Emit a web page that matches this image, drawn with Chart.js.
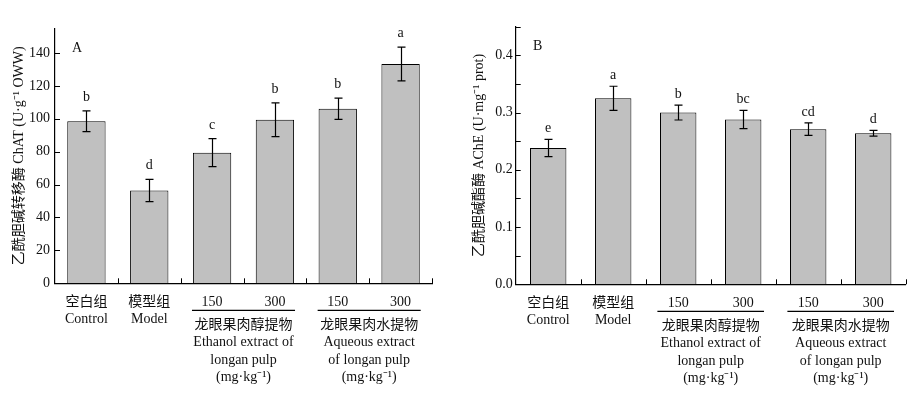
<!DOCTYPE html>
<html>
<head>
<meta charset="utf-8">
<script src="https://cdn.jsdelivr.net/npm/chart.js@4"></script>
<style>
  html, body { margin: 0; padding: 0; background: #fff; }
  #wrap { width: 922px; height: 399px; display: flex; }
  canvas { display: block; }
</style>
</head>
<body>
<div id="wrap">
  <canvas id="chart-a" width="461" height="399"></canvas>
  <canvas id="chart-b" width="461" height="399"></canvas>
</div>
<script>
// categories (first row of x labels)
const categories = [['空白组', 'Control'], ['模型组', 'Model'], '150', '300', '150', '300']
// dose groups under the 150 / 300 pairs
const groupLabels = [
  ['龙眼果肉醇提物', 'Ethanol extract of', 'longan pulp', '(mg·kg⁻¹)'],
  ['龙眼果肉水提物', 'Aqueous extract', 'of longan pulp', '(mg·kg⁻¹)']
]

// panel A: ChAT
const chatMeans = [98.5, 56.4, 79.4, 99.4, 106.1, 133.3]
const chatErrors = [6.3, 6.8, 8.5, 10.3, 6.4, 10.3]
const chatLetters = ['b', 'd', 'c', 'b', 'b', 'a']

// panel B: AChE
const acheMeans = [0.238, 0.325, 0.300, 0.288, 0.271, 0.264]
const acheErrors = [0.015, 0.021, 0.013, 0.016, 0.011, 0.005]
const acheLetters = ['e', 'a', 'b', 'bc', 'cd', 'd']

const SERIF = '"Liberation Serif", "Times New Roman", "Noto Sans CJK SC", serif'
const INK = '#111'

Chart.defaults.font.family = SERIF
Chart.defaults.font.size = 14
Chart.defaults.color = INK

// draws error bars, letters, inside ticks, panel letter and dose groups
const extrasPlugin = {
  id: 'extras',
  afterDatasetsDraw(chart, args, opts) {
    const { ctx, chartArea } = chart
    const x = chart.scales.x
    const y = chart.scales.y
    const meta = chart.getDatasetMeta(0)
    const means = chart.data.datasets[0].data

    ctx.save()
    ctx.strokeStyle = '#000'
    ctx.lineWidth = 1.2
    ctx.fillStyle = INK
    ctx.font = '14px ' + SERIF
    ctx.textAlign = 'center'
    ctx.textBaseline = 'alphabetic'

    meta.data.forEach((bar, i) => {
      const hi = y.getPixelForValue(means[i] + opts.errors[i])
      const lo = y.getPixelForValue(means[i] - opts.errors[i])
      const cx = Math.round(bar.x) + 0.5
      ctx.beginPath()
      ctx.moveTo(cx, hi); ctx.lineTo(cx, lo)
      ctx.moveTo(cx - 4, hi); ctx.lineTo(cx + 4, hi)
      ctx.moveTo(cx - 4, lo); ctx.lineTo(cx + 4, lo)
      ctx.stroke()
      ctx.fillText(opts.letters[i], bar.x, hi - opts.letterGap)
    })

    // inside ticks on y
    ctx.lineWidth = 1
    ctx.beginPath()
    y.ticks.forEach(t => {
      const py = Math.round(y.getPixelForValue(t.value)) + 0.5
      ctx.moveTo(chartArea.left, py); ctx.lineTo(chartArea.left + 5, py)
    })
    // inside ticks on x, at category boundaries
    const n = x.ticks.length
    for (let i = 1; i <= n; i++) {
      const px = Math.round(x.left + i * x.width / n) + 0.5
      ctx.moveTo(px, chartArea.bottom); ctx.lineTo(px, chartArea.bottom - 5)
    }
    ctx.stroke()

    // panel letter
    ctx.textBaseline = 'middle'
    ctx.fillText(opts.panel, chartArea.left + 22, chartArea.top + 20)

    // dose groups
    const step = x.width / n
    groupLabels.forEach((lines, g) => {
      const c = (x.getPixelForValue(2 + g * 2) + x.getPixelForValue(3 + g * 2)) / 2
      const ly = chartArea.bottom + 27
      ctx.lineWidth = 1.2
      ctx.beginPath()
      ctx.moveTo(c - step * 0.82, ly); ctx.lineTo(c + step * 0.82, ly)
      ctx.stroke()
      lines.forEach((t, k) => {
        ctx.fillText(t, c, chartArea.bottom + 42 + k * 17.3)
      })
    })
    ctx.restore()
  }
}

function makeChart(el, cfg) {
  return new Chart(el, {
    type: 'bar',
    data: {
      labels: categories,
      datasets: [{
        data: cfg.means,
        backgroundColor: '#c0c0c0',
        borderColor: '#000',
        borderWidth: 1,
        barPercentage: cfg.barPct,
        categoryPercentage: 1
      }]
    },
    options: {
      responsive: false,
      animation: false,
      devicePixelRatio: 1,
      layout: { padding: { left: 0, right: cfg.padRight, top: cfg.padTop, bottom: 0 } },
      plugins: {
        legend: { display: false },
        tooltip: { enabled: false },
        extras: { errors: cfg.errors, letters: cfg.letters, panel: cfg.panel, letterGap: cfg.letterGap }
      },
      scales: {
        x: {
          grid: { display: false, drawTicks: false },
          border: { display: true, color: '#000', width: 1.2 },
          ticks: { padding: 10.5, color: INK, font: { size: 14, family: SERIF }, maxRotation: 0, autoSkip: false },
          afterFit: s => { s.height = cfg.xHeight }
        },
        y: {
          min: 0,
          max: cfg.max,
          grid: { display: false, drawTicks: false },
          border: { display: true, color: '#000', width: 1.2 },
          ticks: {
            stepSize: cfg.step,
            includeBounds: false,
            autoSkip: false,
            padding: cfg.tickPad,
            color: INK,
            callback: cfg.tickFmt
          },
          title: {
            display: true,
            text: cfg.title,
            color: INK,
            font: { size: 14, family: SERIF },
            padding: { top: cfg.titlePad, bottom: 0 }
          },
          afterFit: s => { s.width = cfg.yWidth }
        }
      }
    },
    plugins: [extrasPlugin]
  })
}

makeChart(document.getElementById('chart-a'), {
  means: chatMeans, errors: chatErrors, letters: chatLetters, panel: 'A',
  barPct: 0.61, max: 155, step: 20, tickPad: 5, letterGap: 10,
  tickFmt: v => v,
  title: '乙酰胆碱转移酶 ChAT (U·g⁻¹ OWW)', titlePad: 11,
  yWidth: 55, xHeight: 115.7, padTop: 28.3, padRight: 29
})

makeChart(document.getElementById('chart-b'), {
  means: acheMeans, errors: acheErrors, letters: acheLetters, panel: 'B',
  barPct: 0.56, max: 0.45, step: 0.05, tickPad: 3, letterGap: 7,
  tickFmt: v => (Math.round(v * 100) % 10 === 0 ? v.toFixed(1) : ''),
  title: '乙酰胆碱酯酶 AChE (U·mg⁻¹ prot)', titlePad: 9.5,
  yWidth: 54.7, xHeight: 114.7, padTop: 26.7, padRight: 16.3
})
</script>
</body>
</html>
